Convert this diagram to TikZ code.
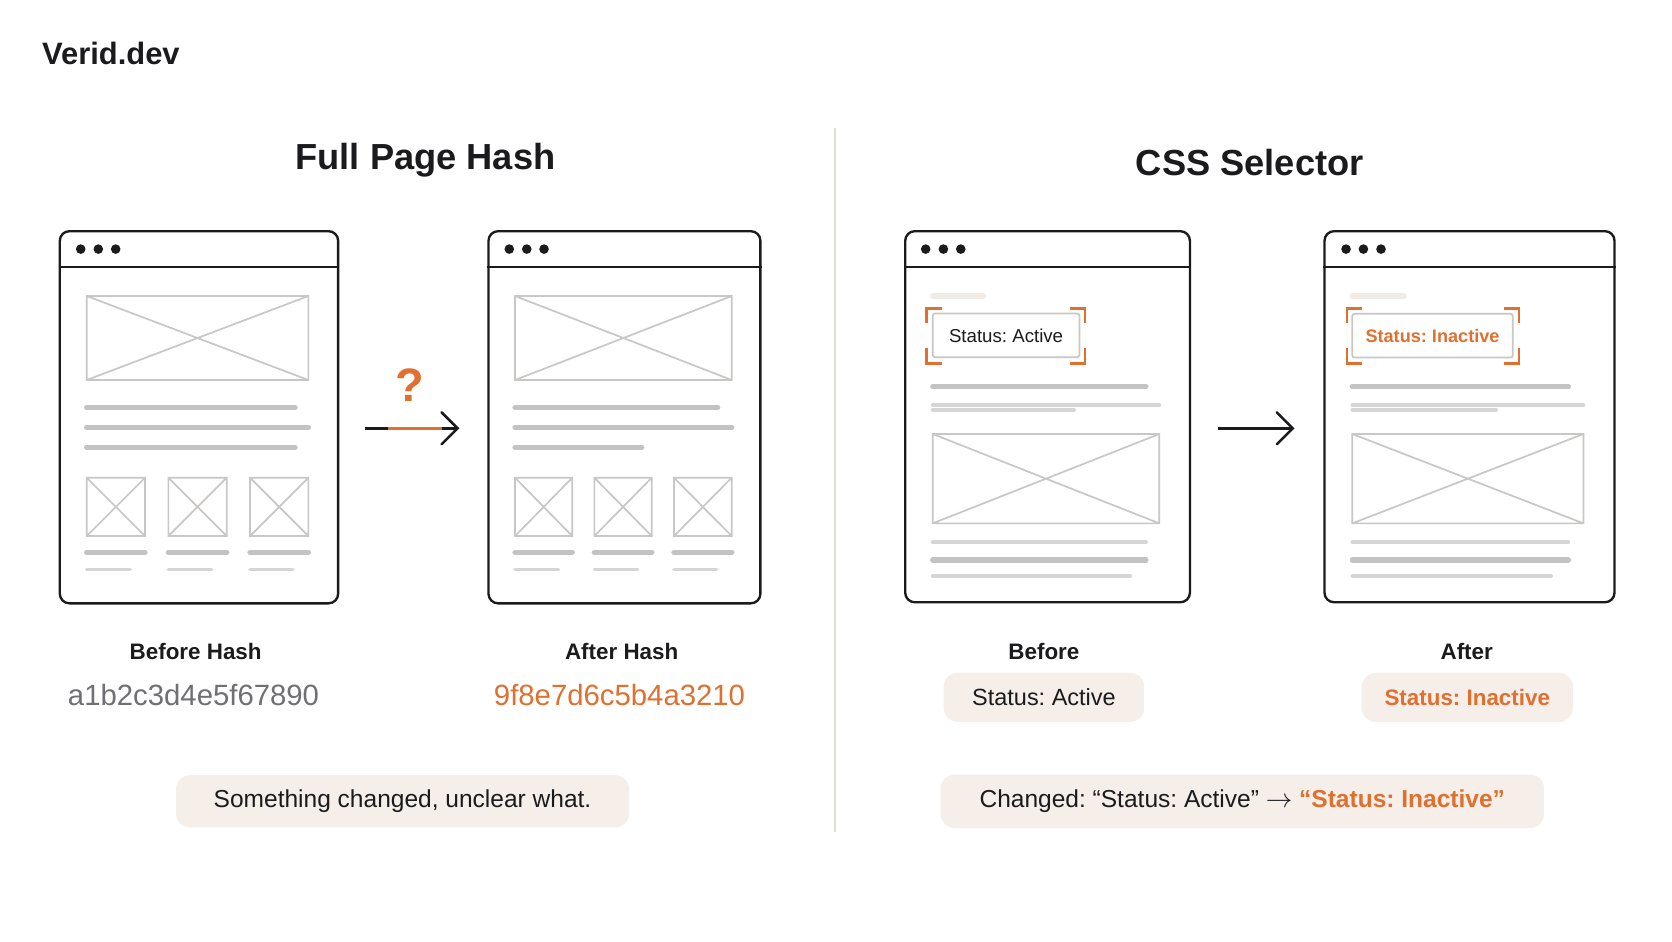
\documentclass[tikz,border=0pt]{standalone}
\usepackage{fontspec}
\setmainfont{Liberation Sans}
\usepackage{tikz}
\usetikzlibrary{arrows.meta}
\frenchspacing
\definecolor{ink}{HTML}{1B1B1D}
\definecolor{accent}{HTML}{E0702F}
\definecolor{sand}{HTML}{F5EEE9}
\definecolor{wire}{HTML}{C9C7C6}
\definecolor{barg}{HTML}{C3C3C3}
\definecolor{faint}{HTML}{F2ECE7}
\definecolor{hashgray}{HTML}{707074}
\definecolor{rulec}{HTML}{E3DCD5}

\begin{document}
\begin{tikzpicture}[x=1pt,y=-1pt,
  win/.style={draw=ink,line width=2.2pt,rounded corners=9pt,anchor=north west,inner sep=0pt,fill=white},
  phbox/.style={draw=wire,line width=1.6pt},
  bar/.style={barg,line width=5pt,line cap=round},
  thinbar/.style={barg!70,line width=3.5pt,line cap=round},
  tag/.style={draw=wire,line width=1.6pt,rounded corners=2pt,minimum height=41pt,fill=white,
    font=\fontsize{17.5}{20}\selectfont,text=ink},
  brk/.style={accent,line width=2.3pt},
  pill/.style={fill=sand,rounded corners=13pt,inner sep=0pt},
  flow/.style={ink,line width=2.4pt,-{Straight Barb[length=15pt,width=30pt,line cap=round]}},
  title/.style={font=\fontsize{34}{40}\selectfont\bfseries,text=ink},
  caption/.style={font=\fontsize{21}{25}\selectfont\bfseries,text=ink},
  hash/.style={font=\fontsize{27.5}{32}\selectfont},
  body/.style={font=\fontsize{23}{27}\selectfont,text=ink}]
\useasboundingbox[fill=white] (0,0) rectangle (1568,882.5);

\node[anchor=west,font=\fontsize{29}{34}\selectfont\bfseries,text=ink] (brand) at (36,50) {Verid.dev};
\node[title] (left title) at (399,150) {Full Page Hash};
\node[title] (right title) at (1172,152) {CSS Selector};
\draw[rulec,line width=1.3pt] (783,120) -- (783,780);

% windows
\node[win,minimum width=261pt,minimum height=349pt] (w1) at (55,215.7) {};
\node[win,minimum width=255pt,minimum height=349pt] (w2) at (457,215.7) {};
\node[win,minimum width=267pt,minimum height=348pt] (w3) at (847.8,215.7) {};
\node[win,minimum width=272pt,minimum height=348pt] (w4) at (1241,215.7) {};
\foreach \w in {w1,w2,w3,w4}
  \draw[ink,line width=2.2pt] (\w.west |- 0,250.5) -- (\w.east |- 0,250.5);
\foreach \x in {75.7,92.2,108.5,477.6,494,510.2,868.1,884.7,901,1262.3,1278.6,1295.1}
  \fill[ink] (\x,233.6) circle (4.5);

% placeholder pictures
\foreach \xa/\ya/\xb/\yb in {81.3/277.6/289.2/356.4, 483/277.6/686.2/356.4,
    81.3/448/136/502.7, 157.9/448/212.6/502.7, 234.5/448/289.2/502.7,
    483/448/536.7/502.7, 557.4/448/611.2/502.7, 632.1/448/686.2/502.7,
    874.7/407/1087.2/490.8, 1268.2/407/1484.9/490.8}
  \draw[phbox] (\xa,\ya) rectangle (\xb,\yb) (\xa,\ya) -- (\xb,\yb) (\xa,\yb) -- (\xb,\ya);

% text bars
\foreach \xa/\xb/\y in {81.3/276.7/382.3, 81.3/289.2/400.8, 81.3/276.7/419.5,
    81.3/136/518, 157.9/212.6/518, 234.5/289.2/518,
    483/673/382.3, 483/686.2/400.8, 483/601.8/419.5,
    483/536.7/518, 557.4/611.2/518, 632.1/686.2/518,
    874.7/1074.7/362.6, 874.7/1074.7/525.2,
    1268.2/1470.8/362.6, 1268.2/1470.8/525.2}
  \draw[bar] (\xa,\y) -- (\xb,\y);
\foreach \xa/\xb/\y in {81.3/121.9/534, 157.9/198.5/534, 234.5/274.5/534,
    483/523.6/534, 557.4/598/534, 632.1/672.1/534,
    874.7/1087.2/379.8, 874.7/1007.2/384.2, 874.7/1074.7/508.6, 874.7/1060/540.2,
    1268.2/1484.9/379.8, 1268.2/1403/384.2, 1268.2/1470.8/508.6, 1268.2/1454.6/540.2}
  \draw[thinbar] (\xa,\y) -- (\xb,\y);
\foreach \xa/\xb in {874.7/922.2, 1268.2/1316.7}
  \draw[faint,line width=5pt,line cap=round] (\xa,277.6) -- (\xb,277.6);

% selected element
\node[tag,minimum width=137.5pt] (t1) at (943.5,314.5) {Status: Active};
\node[tag,minimum width=150.4pt,text=accent,font=\fontsize{17}{20}\selectfont\bfseries] (t2) at (1343.4,314.8) {Status: Inactive};
\foreach \l/\t/\r/\b in {869/289.2/1017.5/340.7, 1263/289.2/1424.6/340.7}
  \draw[brk] (\l,\t+14) -- (\l,\t) -- (\l+14,\t)
    (\r-14,\t) -- (\r,\t) -- (\r,\t+14)
    (\l,\b-14) -- (\l,\b) -- (\l+14,\b)
    (\r-14,\b) -- (\r,\b) -- (\r,\b-14);

% arrows
\coordinate (a1) at (342.3,401.7);
\coordinate (a2) at (430.8,401.7);
\coordinate (b1) at (1142,401.7);
\coordinate (b2) at (1214,401.7);
\draw[flow] (a1) -- (a2);
\draw[accent,line width=2.4pt] (364.2,401.7) -- (414.2,401.7);
\draw[flow] (b1) -- (b2);
\node[font=\fontsize{44}{48}\selectfont\bfseries,text=accent] (qm) at (384.3,361.5) {?};

% labels
\node[caption] (bh) at (183.5,611) {Before Hash};
\node[hash,text=hashgray] (bv) at (181.5,652) {a1b2c3d4e5f67890};
\node[caption] (ah) at (583,611) {After Hash};
\node[hash,text=accent] (av) at (581,652) {9f8e7d6c5b4a3210};
\node[caption] (bf) at (979,611) {Before};
\node[pill,body,minimum width=188pt,minimum height=46pt,font=\fontsize{22}{26}\selectfont] (bs) at (979,654) {Status: Active};
\node[caption] (af) at (1375.5,611) {After};
\node[pill,minimum width=198pt,minimum height=46pt,text=accent,font=\fontsize{21}{26}\selectfont\bfseries] (as) at (1376,654) {Status: Inactive};

% verdicts
\node[pill,body,minimum width=425pt,minimum height=49pt] (n1) at (377.5,751.5) {Something changed, unclear what.};
\node[pill,body,minimum width=566pt,minimum height=50pt] (n2) at (1165,751.5)
  {Changed: “Status: Active” $\rightarrow$ {\color{accent}\bfseries “Status: Inactive”}};
\end{tikzpicture}
\end{document}
